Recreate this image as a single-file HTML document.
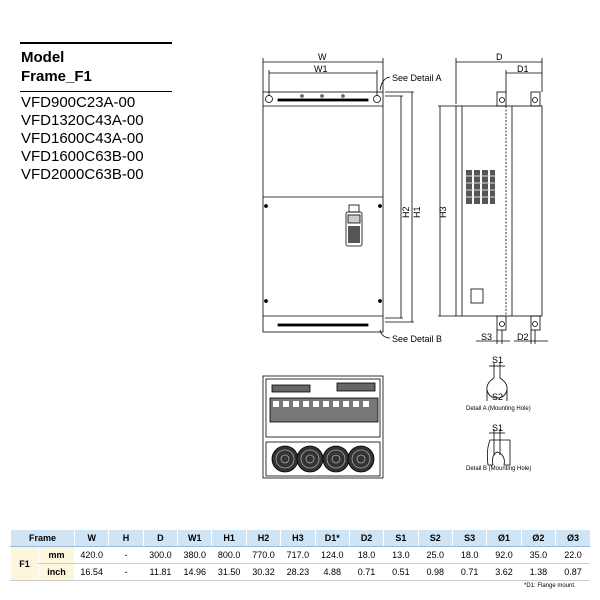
<!DOCTYPE html>
<html><head><style>
body{margin:0;width:600px;height:600px;background:#fff;font-family:"Liberation Sans",Arial,sans-serif;position:relative;overflow:hidden}
.t{position:absolute;white-space:nowrap}
table{position:absolute;left:10px;top:530px;border-collapse:collapse;font-size:9px;width:580px;table-layout:fixed}
td{text-align:center;height:16px;padding:0;border-bottom:1px solid #ccc;border-left:1px solid #fff}
tr.h td{background:#cfe4f4;font-weight:bold;border-bottom:1px solid #9bbbd6}
td.y{background:#fbf6dc;font-weight:bold}
</style></head><body>
<div style="position:absolute;left:20px;top:42px;width:152px;height:2px;background:#000"></div>
<div class="t" style="left:21px;top:49px;font-size:15px;font-weight:bold">Model</div>
<div class="t" style="left:21px;top:68px;font-size:15px;font-weight:bold">Frame_F1</div>
<div style="position:absolute;left:20px;top:91px;width:152px;height:1px;background:#000"></div>
<div class="t" style="left:21px;top:94px;font-size:15px;line-height:18px">VFD900C23A-00<br>VFD1320C43A-00<br>VFD1600C43A-00<br>VFD1600C63B-00<br>VFD2000C63B-00</div>

<svg width="600" height="600" style="position:absolute;left:0;top:0" font-family="Liberation Sans,Arial,sans-serif" fill="none" stroke="#000" stroke-width="0.8">
<!-- front view -->
<rect x="263" y="92" width="120" height="240"/>
<line x1="263" y1="106" x2="383" y2="106"/>
<line x1="263" y1="197" x2="383" y2="197"/>
<line x1="263" y1="316" x2="383" y2="316"/>
<rect x="278" y="99" width="90" height="2" fill="#000"/>
<rect x="278" y="324" width="90" height="2" fill="#000"/>
<circle cx="269" cy="99" r="3.5"/><circle cx="377" cy="99" r="3.5"/>
<circle cx="302" cy="96" r="1.2"/><circle cx="322" cy="96" r="1.2"/><circle cx="343" cy="96" r="1.2"/>
<circle cx="266" cy="206" r="1.5" fill="#000"/><circle cx="380" cy="206" r="1.5" fill="#000"/>
<circle cx="266" cy="301" r="1.5" fill="#000"/><circle cx="380" cy="301" r="1.5" fill="#000"/>
<rect x="346" y="212" width="16" height="34" rx="2" fill="#fff"/>
<rect x="349" y="205" width="10" height="7"/>
<rect x="348" y="215" width="12" height="8" fill="#ccc"/>
<g fill="#555" stroke="none"><rect x="348" y="226" width="12" height="17"/></g>
<!-- dims front -->
<line x1="263" y1="62" x2="383" y2="62"/><line x1="263" y1="58" x2="263" y2="92"/><line x1="383" y1="58" x2="383" y2="92"/>
<line x1="269" y1="73" x2="377" y2="73"/><line x1="269" y1="70" x2="269" y2="96"/><line x1="377" y1="70" x2="377" y2="96"/>
<line x1="385" y1="96" x2="403" y2="96"/><line x1="401" y1="96" x2="401" y2="318"/><line x1="385" y1="318" x2="403" y2="318"/>
<line x1="385" y1="92" x2="414" y2="92"/><line x1="412" y1="92" x2="412" y2="322"/><line x1="385" y1="322" x2="414" y2="322"/>
<path d="M380 90 Q382 78 390 77"/><path d="M380 330 Q382 338 390 338"/>
<!-- side view -->
<rect x="456" y="106" width="86" height="210"/>
<line x1="462" y1="106" x2="462" y2="316"/>
<line x1="506" y1="106" x2="506" y2="316" stroke-dasharray="2 1.5"/>
<line x1="512" y1="106" x2="512" y2="316"/>
<rect x="497" y="92" width="9" height="14"/><circle cx="502" cy="100" r="2.5"/>
<rect x="531" y="92" width="9" height="14"/><circle cx="535" cy="100" r="2.5"/>
<rect x="497" y="316" width="9" height="14"/><circle cx="502" cy="324" r="2.5"/>
<rect x="531" y="316" width="9" height="14"/><circle cx="535" cy="324" r="2.5"/>
<g fill="#555" stroke="none"><rect x="466" y="170" width="6" height="34"/><rect x="474" y="170" width="6" height="34"/><rect x="482" y="170" width="6" height="34"/><rect x="490" y="170" width="5" height="34"/></g>
<g stroke="#ddd" stroke-width="1"><line x1="465" y1="176" x2="496" y2="176"/><line x1="465" y1="183" x2="496" y2="183"/><line x1="465" y1="190" x2="496" y2="190"/><line x1="465" y1="197" x2="496" y2="197"/></g>
<rect x="471" y="289" width="12" height="14"/>
<line x1="456" y1="62" x2="542" y2="62"/><line x1="456" y1="58" x2="456" y2="104"/><line x1="542" y1="58" x2="542" y2="92"/>
<line x1="506" y1="73" x2="542" y2="73"/><line x1="506" y1="70" x2="506" y2="92"/>
<line x1="438" y1="106" x2="456" y2="106"/><line x1="440" y1="106" x2="440" y2="316"/><line x1="438" y1="316" x2="456" y2="316"/>
<line x1="497" y1="330" x2="497" y2="344"/><line x1="502" y1="330" x2="502" y2="344"/><line x1="476" y1="341" x2="510" y2="341"/>
<line x1="531" y1="330" x2="531" y2="344"/><line x1="535" y1="330" x2="535" y2="344"/><line x1="514" y1="341" x2="548" y2="341"/>
<!-- bottom view -->
<rect x="263" y="376" width="120" height="102"/>
<rect x="266" y="379" width="114" height="58"/>
<rect x="266" y="442" width="114" height="34"/>
<rect x="270" y="398" width="108" height="24" fill="#777"/>
<g fill="#fff" stroke="none"><rect x="273" y="401" width="6" height="6"/><rect x="283" y="401" width="6" height="6"/><rect x="293" y="401" width="6" height="6"/><rect x="303" y="401" width="6" height="6"/><rect x="313" y="401" width="6" height="6"/><rect x="323" y="401" width="6" height="6"/><rect x="333" y="401" width="6" height="6"/><rect x="343" y="401" width="6" height="6"/><rect x="353" y="401" width="6" height="6"/><rect x="363" y="401" width="6" height="6"/></g>
<rect x="272" y="385" width="38" height="7" fill="#666"/>
<rect x="337" y="383" width="38" height="8" fill="#666"/>
<circle cx="285" cy="459" r="13" fill="#333"/><circle cx="310" cy="459" r="13" fill="#333"/><circle cx="336" cy="459" r="13" fill="#333"/><circle cx="361" cy="459" r="13" fill="#333"/>
<g stroke="#aaa"><circle cx="285" cy="459" r="9"/><circle cx="310" cy="459" r="9"/><circle cx="336" cy="459" r="9"/><circle cx="361" cy="459" r="9"/><circle cx="285" cy="459" r="4"/><circle cx="310" cy="459" r="4"/><circle cx="336" cy="459" r="4"/><circle cx="361" cy="459" r="4"/></g>
<!-- detail A -->
<path d="M494 368 L494 378 Q486 383 487 390 Q489 398 497 398 Q505 398 507 390 Q508 383 500 378 L500 368"/>
<line x1="489" y1="366" x2="505" y2="366"/><line x1="494" y1="362" x2="494" y2="368"/><line x1="500" y1="362" x2="500" y2="368"/>
<line x1="487" y1="390" x2="487" y2="401"/><line x1="507" y1="390" x2="507" y2="401"/>
<!-- detail B -->
<path d="M490 440 L510 440 L510 465 L504 465 Q506 455 497 452 Q491 455 493 465 L488 465 Q486 450 490 440Z"/>
<line x1="489" y1="433" x2="505" y2="433"/><line x1="494" y1="429" x2="494" y2="455"/><line x1="500" y1="429" x2="500" y2="455"/>
<g fill="#000" stroke="none" font-size="9">
<text x="318" y="60">W</text><text x="314" y="72">W1</text>
<text x="392" y="81">See Detail A</text><text x="392" y="342">See Detail B</text>
<text x="496" y="60">D</text><text x="517" y="72">D1</text>
<text x="481" y="340">S3</text><text x="517" y="340">D2</text>
<text transform="translate(409,218) rotate(-90)">H2</text>
<text transform="translate(420,218) rotate(-90)">H1</text>
<text transform="translate(446,218) rotate(-90)">H3</text>
<text x="492" y="363">S1</text><text x="492" y="400">S2</text><text x="492" y="431">S1</text>
<text x="466" y="410" font-size="6">Detail A (Mounting Hole)</text>
<text x="466" y="470" font-size="6">Detail B (Mounting Hole)</text>
<text x="524" y="587" font-size="6">*D1: Flange mount.</text>
</g>
</svg>

<table>
<colgroup><col style="width:28px"><col style="width:36px"><col><col><col><col><col><col><col><col><col><col><col><col><col><col><col></colgroup>
<tr class="h"><td colspan="2">Frame</td><td>W</td><td>H</td><td>D</td><td>W1</td><td>H1</td><td>H2</td><td>H3</td><td>D1*</td><td>D2</td><td>S1</td><td>S2</td><td>S3</td><td>Ø1</td><td>Ø2</td><td>Ø3</td></tr>
<tr><td class="y" rowspan="2">F1</td><td class="y">mm</td><td>420.0</td><td>-</td><td>300.0</td><td>380.0</td><td>800.0</td><td>770.0</td><td>717.0</td><td>124.0</td><td>18.0</td><td>13.0</td><td>25.0</td><td>18.0</td><td>92.0</td><td>35.0</td><td>22.0</td></tr>
<tr><td class="y">inch</td><td>16.54</td><td>-</td><td>11.81</td><td>14.96</td><td>31.50</td><td>30.32</td><td>28.23</td><td>4.88</td><td>0.71</td><td>0.51</td><td>0.98</td><td>0.71</td><td>3.62</td><td>1.38</td><td>0.87</td></tr>
</table>
</body></html>
